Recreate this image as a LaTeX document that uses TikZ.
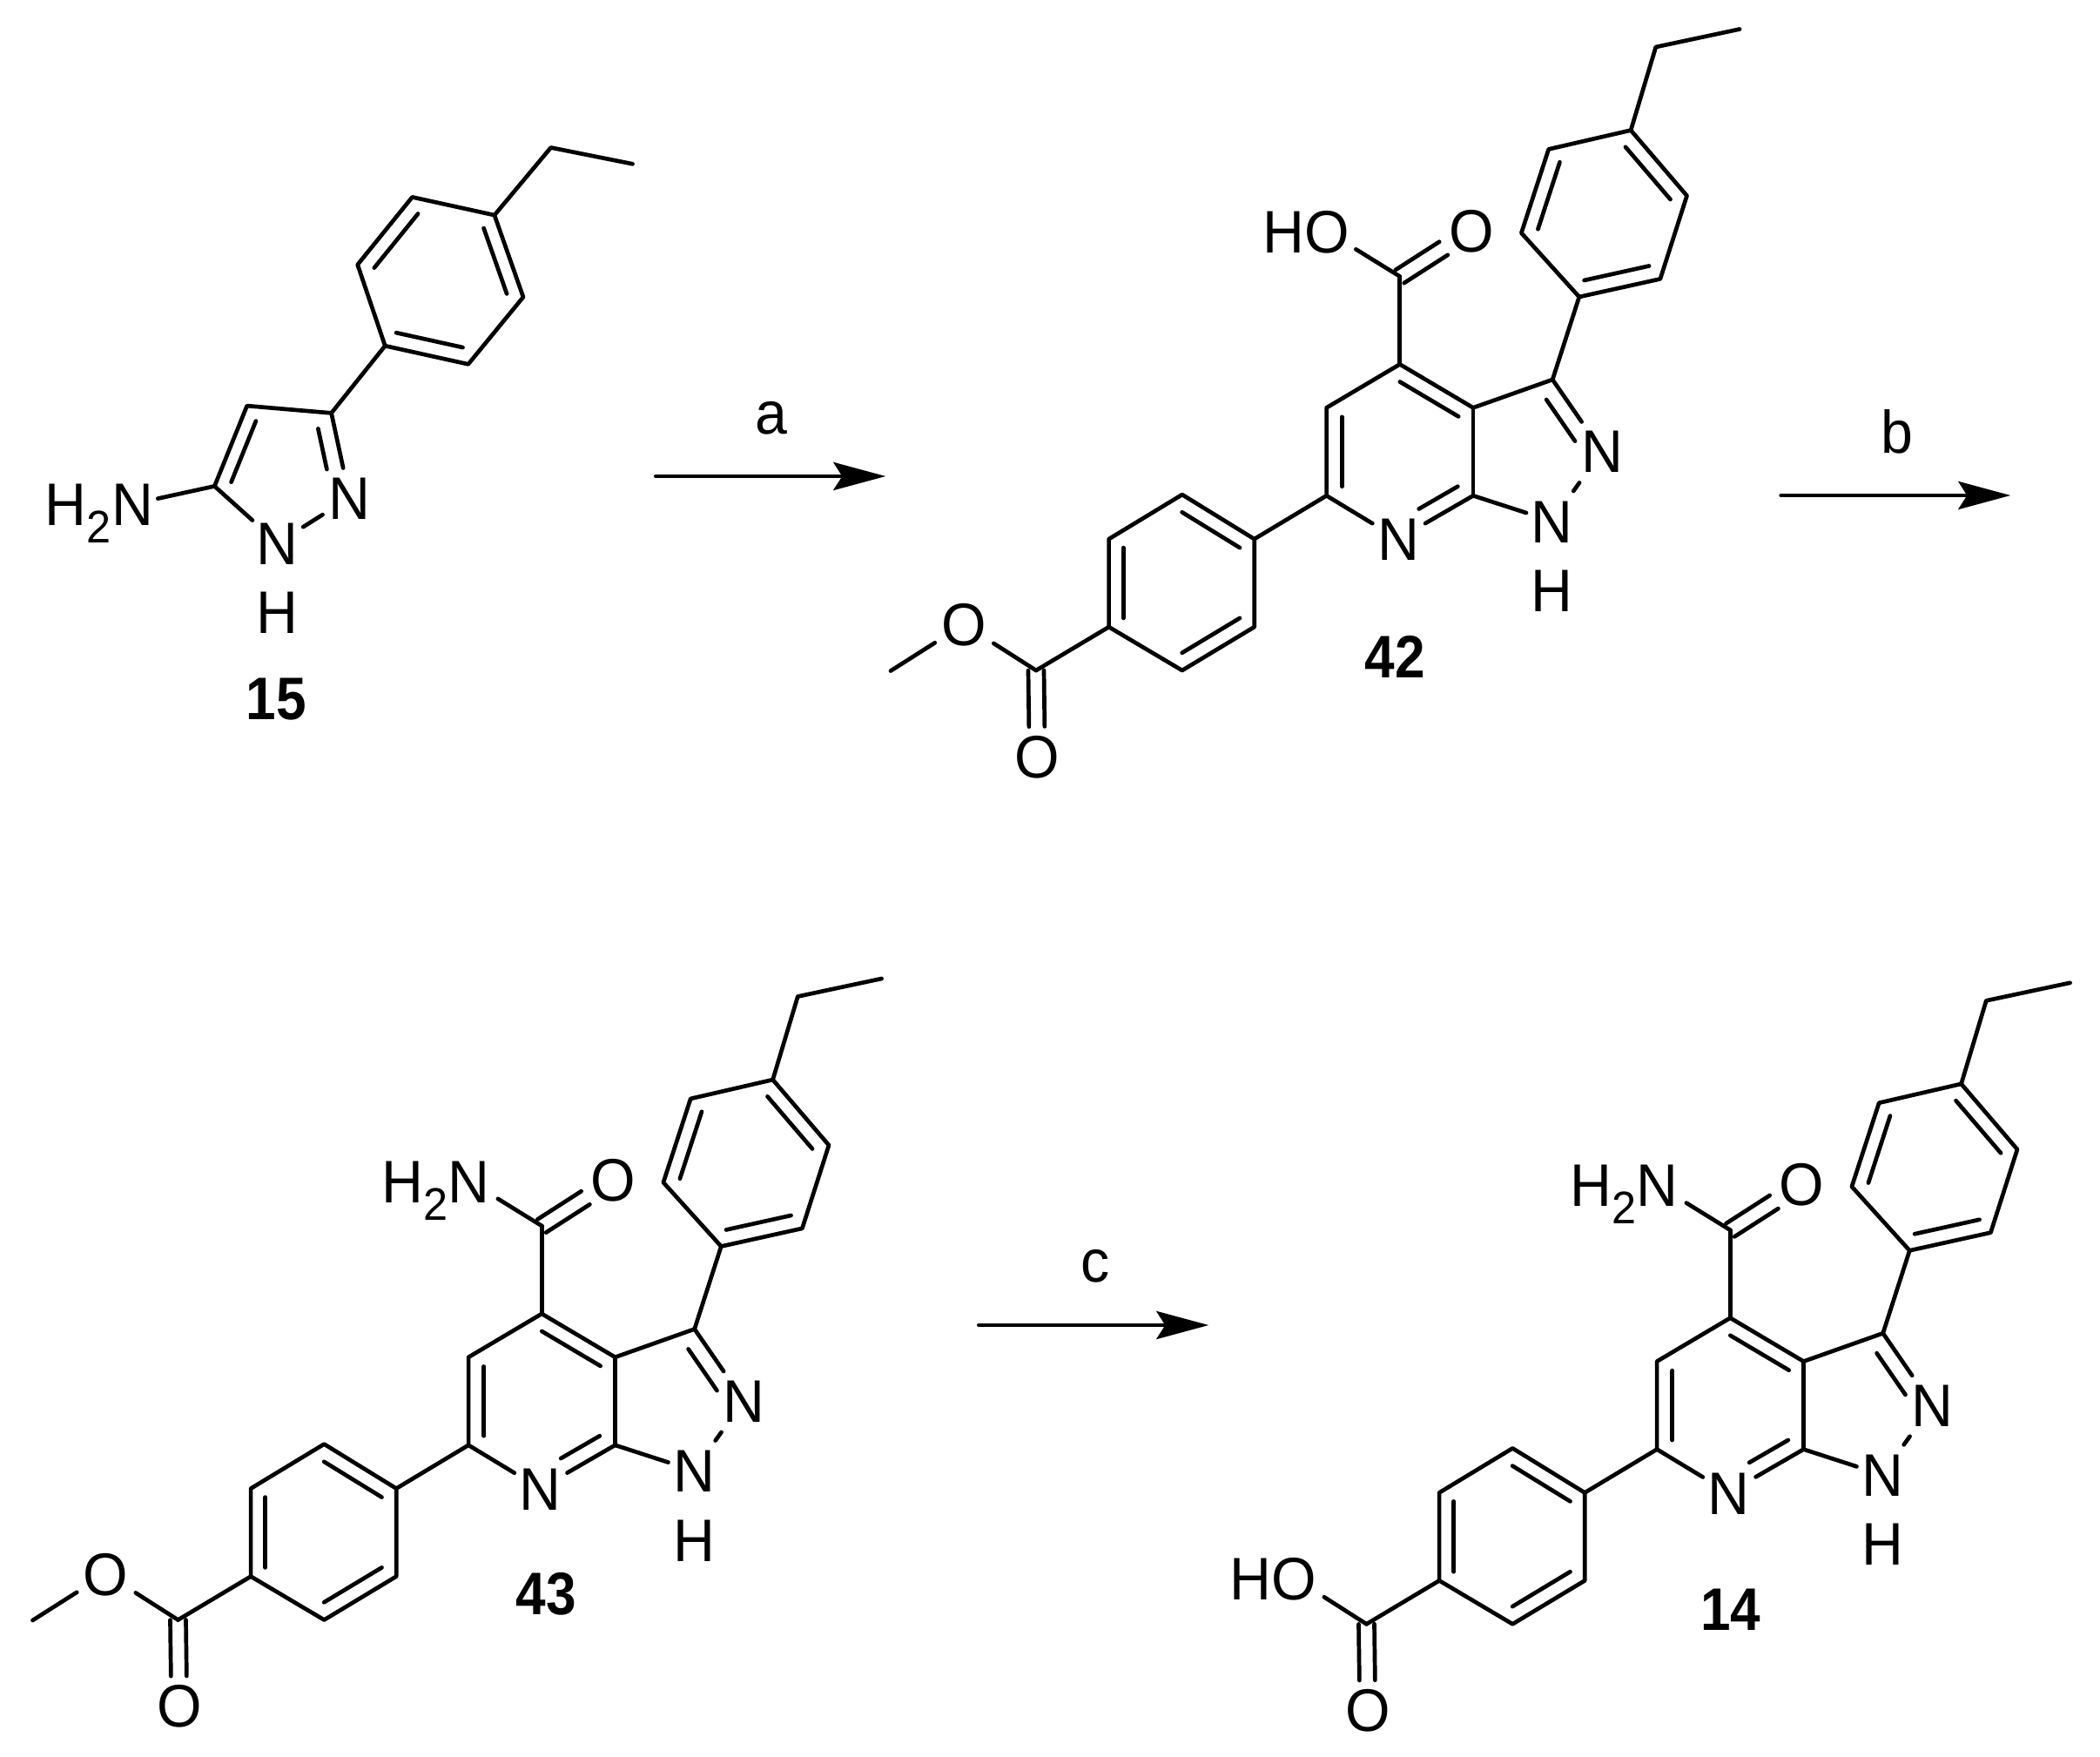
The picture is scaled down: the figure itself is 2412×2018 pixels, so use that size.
\documentclass[tikz,border=0pt]{standalone}
\usepackage{fontspec}
\setmainfont[FakeStretch=0.96]{Liberation Sans}
\newfontfamily\cmpdfont[FakeStretch=0.9]{Liberation Sans}
\usetikzlibrary{calc,arrows.meta}
\tikzset{
  bond/.style={line width=4.7pt,line cap=round,line join=round,black},
  atom/.style={font=\fontsize{69}{72}\selectfont,inner sep=0pt,text height=49.5pt,text depth=0pt,text=black},
  cmpd/.style={atom,font=\fontsize{69}{72}\cmpdfont\bfseries\selectfont},
  reagent/.style={font=\fontsize{69}{72}\selectfont,inner sep=0pt,anchor=base,text=black},
  rxnarrow/.style={line width=4.7pt,line cap=round,black,-{Stealth[length=60pt,width=32pt,inset=10pt]}}
}
\newcommand{\subtwo}{\raisebox{-20pt}{\fontsize{52.5}{54}\selectfont 2}}
% inner line of a ring double bond: both ends pulled toward the ring centre
\newcommand{\inb}[5][]{\draw[bond,#1] ($(#3)!#2!(#5)$) -- ($(#4)!#2!(#5)$);}
% symmetric double bond
\newcommand{\symdbl}[3]{%
  \draw[bond,shorten >=#3] ($(#1)!9pt!90:(#2)$) -- ($(#2)!9pt!-90:(#1)$);
  \draw[bond,shorten >=#3] ($(#1)!9pt!-90:(#2)$) -- ($(#2)!9pt!90:(#1)$);}
\newcommand{\corepart}{%
  \coordinate (Et2) at (1998.1,33.5);
  \coordinate (Et1) at (1901.8,54);
  \coordinate (p) at (1873.1,149.6);
  \coordinate (ra) at (1778.7,171.4);
  \coordinate (rb) at (1747.4,267.6);
  \coordinate (rc) at (1813.8,341);
  \coordinate (rd) at (1906.9,320.4);
  \coordinate (re) at (1937.5,224.8);
  \coordinate (rctr) at (1842.6,245.8);
  \coordinate (C3) at (1783.2,436);
  \coordinate (C3a) at (1692,468.3);
  \coordinate (C7a) at (1692,569.3);
  \coordinate (C4) at (1607.8,418.4);
  \coordinate (C5) at (1523.6,468.3);
  \coordinate (C6) at (1523.6,569.3);
  \coordinate (pyctr) at (1607.8,518.8);
  \coordinate (zctr) at (1757.9,518);
  \node[atom] (N2) at (1839.9,518.2) {N};
  \node[atom] (N1) at (1782.5,598.6) {N};
  \node[atom] (H1) at (1782.5,677.8) {H};
  \node[atom] (N7) at (1605.9,619.1) {N};
  \coordinate (q1) at (1440.7,619.1);
  \coordinate (q2) at (1357.8,568.1);
  \coordinate (q3) at (1273.6,619.1);
  \coordinate (q4) at (1273.6,720.1);
  \coordinate (q5) at (1357.8,770);
  \coordinate (q6) at (1440.7,720.1);
  \coordinate (qctr) at (1357.1,669.1);
  \coordinate (CT) at (1607.8,317.5);
  \coordinate (CE) at (1190,770);
  \node[atom] (OT) at (1690,264.7) {O};
  \node[atom] (OE) at (1191.3,868.5) {O};
  \draw[bond] (Et2) -- (Et1) -- (p);
  \draw[bond] (p) -- (ra) -- (rb) -- (rc) -- (rd) -- (re) -- cycle;
  \inb{.2}{ra}{rb}{rctr}
  \inb{.2}{rc}{rd}{rctr}
  \inb{.2}{p}{re}{rctr}
  \draw[bond] (rc) -- (C3);
  \draw[bond] (C3) -- (C3a) -- (C4) -- (C5) -- (C6);
  \draw[bond] (C3a) -- (C7a);
  \inb{.2}{C3a}{C4}{pyctr}
  \inb{.21}{C5}{C6}{pyctr}
  \draw[bond,shorten >=34.6pt] (C6) -- (N7.center);
  \draw[bond,shorten >=36pt] (C7a) -- (N7.center);
  \inb[shorten >=27pt]{.21}{C7a}{N7.center}{pyctr}
  \draw[bond,shorten >=31pt] (C7a) -- (N1.center);
  \draw[bond,shorten >=41pt] (C3) -- (N2.center);
  \inb[shorten >=14pt]{.28}{C3}{N2.center}{zctr}
  \draw[bond,shorten <=42.5pt,shorten >=44.5pt] (N1.center) -- (N2.center);
  \draw[bond] (C6) -- (q1);
  \draw[bond] (q1) -- (q2) -- (q3) -- (q4) -- (q5) -- (q6) -- cycle;
  \inb{.2}{q1}{q2}{qctr}
  \inb{.2}{q3}{q4}{qctr}
  \inb{.2}{q5}{q6}{qctr}
  \draw[bond] (C4) -- (CT);
  \symdbl{CT}{OT.center}{38pt}
  \draw[bond] (q4) -- (CE);
  \symdbl{CE}{OE.center}{34pt}
}
\newcommand{\acidtop}{%
  \node[atom] (XT) at (1524.2,265.8) {O};
  \node[atom,anchor=east] (HT) at (XT.west) {H};
  \draw[bond,shorten >=39pt] (CT) -- (XT.center);
}
\newcommand{\amidetop}{%
  \node[atom] (XT) at (1524.2,265.8) {N};
  \node[atom,anchor=east] (HT) at (XT.west) {H\subtwo};
  \draw[bond,shorten >=39pt] (CT) -- (XT.center);
}
\newcommand{\esterend}{%
  \node[atom] (XE) at (1107.1,717.1) {O};
  \coordinate (Me) at (1023,770.5);
  \draw[bond,shorten >=40.6pt] (CE) -- (XE.center);
  \draw[bond,shorten >=39.5pt] (Me) -- (XE.center);
}
\newcommand{\acidend}{%
  \node[atom] (XE) at (1107.1,717.1) {O};
  \node[atom,anchor=east] (HE) at (XE.west) {H};
  \draw[bond,shorten >=40.6pt] (CE) -- (XE.center);
}
\begin{document}
\begin{tikzpicture}[x=1pt,y=-1pt]
\useasboundingbox (0,0) rectangle (2412,2018);
% compound 15
\begin{scope}[name prefix=s-]
  \coordinate (Et2) at (726.5,188.3);
  \coordinate (Et1) at (632.7,169.5);
  \coordinate (p) at (567.9,247.1);
  \coordinate (ra) at (473.5,226.4);
  \coordinate (rb) at (410.7,304);
  \coordinate (rc) at (442.3,397.2);
  \coordinate (rd) at (537.8,418.3);
  \coordinate (re) at (601,341.2);
  \coordinate (rctr) at (506.4,322);
  \coordinate (C3) at (380.6,474.4);
  \coordinate (C4) at (283.7,466.1);
  \coordinate (C5) at (246.4,558.4);
  \coordinate (zctr) at (326.3,538.8);
  \node[atom] (N1) at (318.9,623.6) {N};
  \node[atom] (N2) at (401.5,571.7) {N};
  \node[atom] (H1) at (318.9,702.5) {H};
  \node[atom] (NA) at (152,579) {N};
  \node[atom,anchor=east] (HA) at (NA.west) {H\subtwo};
  \draw[bond] (Et2) -- (Et1) -- (p);
  \draw[bond] (p) -- (ra) -- (rb) -- (rc) -- (rd) -- (re) -- cycle;
  \inb{.2}{ra}{rb}{rctr}
  \inb{.2}{p}{re}{rctr}
  \inb{.2}{rc}{rd}{rctr}
  \draw[bond] (rc) -- (C3) -- (C4) -- (C5);
  \inb{.24}{C4}{C5}{zctr}
  \draw[bond,shorten >=35pt] (C3) -- (N2.center);
  \inb[shorten >=24pt]{.28}{C3}{N2.center}{zctr}
  \draw[bond,shorten >=39pt] (C5) -- (N1.center);
  \draw[bond,shorten >=30pt] (C5) -- (NA.center);
  \draw[bond,shorten <=34.6pt,shorten >=36.6pt] (N1.center) -- (N2.center);
\end{scope}
\node[cmpd] (c15) at (317.3,801.7) {15};
% compound 42
\begin{scope}[name prefix=t-]
  \corepart\acidtop\esterend
\end{scope}
\node[cmpd] (c42) at (1602,754) {42};
% compound 43
\begin{scope}[shift={(-985.5,1090.5)},name prefix=u-]
  \corepart\amidetop\esterend
\end{scope}
\node[cmpd] (c43) at (627.4,1830) {43};
% compound 14
\begin{scope}[shift={(379.5,1095.3)},name prefix=v-]
  \corepart\amidetop\acidend
\end{scope}
\node[cmpd] (c14) at (1987.6,1848.2) {14};
% reaction arrows
\coordinate (a1) at (753.3,547);
\coordinate (a2) at (1017.3,547);
\draw[rxnarrow] (a1) -- (a2);
\node[reagent] (la) at (886,498.3) {a};
\coordinate (b1) at (2045.7,569);
\coordinate (b2) at (2309.3,569);
\draw[rxnarrow] (b1) -- (b2);
\node[reagent] (lb) at (2179.3,520) {b};
\coordinate (c1) at (1124.3,1522);
\coordinate (c2) at (1388.3,1522);
\draw[rxnarrow] (c1) -- (c2);
\node[reagent] (lc) at (1258.3,1472.7) {c};
\end{tikzpicture}
\end{document}
